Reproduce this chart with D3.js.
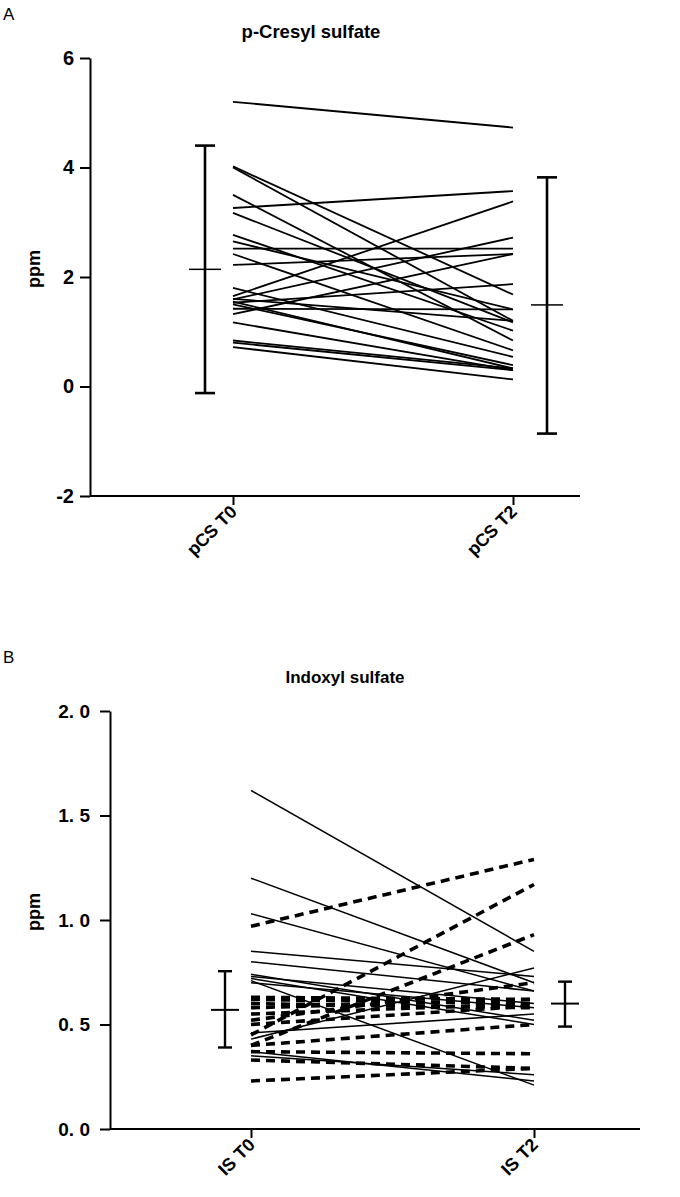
<!DOCTYPE html>
<html><head><meta charset="utf-8">
<script src="https://cdn.jsdelivr.net/npm/d3@7"></script>
<style>
html,body{margin:0;padding:0;background:#fff;}
svg{display:block;font-family:"Liberation Sans",Arial,sans-serif;}
</style></head>
<body><svg id="c" width="680" height="1197"></svg>
<script>
// ---------- Panel A data (p-Cresyl sulfate, ppm) ----------
const catsA = ["pCS T0", "pCS T2"];
const ticksA = [-2, 0, 2, 4, 6];
const tickLabelsA = ["-2", "0", "2", "4", "6"];
const pcsT0 = [5.20, 4.02, 4.00, 3.50, 3.26, 3.17, 2.77, 2.65, 2.52, 2.42, 2.22, 1.80, 1.65, 1.59, 1.53, 1.50, 1.55, 1.42, 1.32, 1.17, 0.84, 0.80, 0.72, 1.60];
const pcsT2 = [4.73, 1.68, 1.20, 0.84, 3.57, 1.17, 1.02, 1.41, 2.52, 0.66, 2.42, 0.54, 3.38, 2.72, 1.87, 0.39, 0.33, 1.41, 2.42, 0.30, 0.33, 0.30, 0.13, 1.20];
const pcsMean = [2.14, 1.49];
const pcsLow = [-0.12, -0.86];
const pcsHigh = [4.40, 3.82];

// ---------- Panel B data (Indoxyl sulfate, ppm) ----------
const catsB = ["IS T0", "IS T2"];
const ticksB = [0, 0.5, 1.0, 1.5, 2.0];
const tickLabelsB = ["0. 0", "0. 5", "1. 0", "1. 5", "2. 0"];
const isSolidT0 = [1.62, 1.20, 1.03, 0.85, 0.80, 0.74, 0.73, 0.72, 0.71, 0.70, 0.43, 0.37, 0.35, 0.46];
const isSolidT2 = [0.85, 0.70, 0.66, 0.73, 0.66, 0.52, 0.60, 0.50, 0.21, 0.58, 0.77, 0.23, 0.26, 0.55];
const isDashT0 = [0.97, 0.45, 0.40, 0.63, 0.62, 0.60, 0.58, 0.55, 0.52, 0.50, 0.40, 0.37, 0.33, 0.23];
const isDashT2 = [1.29, 1.17, 0.93, 0.62, 0.60, 0.58, 0.62, 0.60, 0.70, 0.59, 0.50, 0.36, 0.29, 0.29];
const isMean = [0.57, 0.60];
const isLow = [0.39, 0.49];
const isHigh = [0.755, 0.705];

const svg = d3.select("#c");
const FONT = "'Liberation Sans', Arial, sans-serif";

function panel(cfg) {
  const g = svg.append("g");
  const y = d3.scaleLinear().domain(cfg.yDomain).range(cfg.yRange);
  const x = d3.scalePoint().domain(cfg.cats).range(cfg.xRange);

  // panel letter
  g.append("text").attr("x", 3).attr("y", cfg.letterY).text(cfg.letter)
    .attr("font-size", 17).attr("font-family", FONT);
  // title
  g.append("text").attr("x", cfg.titleX).attr("y", cfg.titleY).attr("text-anchor", "middle")
    .attr("font-size", cfg.titleFont).attr("font-weight", "bold").attr("font-family", FONT).text(cfg.title);

  // y axis
  const ya = d3.axisLeft(y).tickValues(cfg.ticks).tickSize(10).tickSizeOuter(0)
    .tickFormat((d, i) => cfg.tickLabels[i]);
  const yg = g.append("g").attr("transform", `translate(${cfg.axisX},0)`).call(ya);
  yg.select(".domain").attr("stroke-width", 2);
  yg.selectAll(".tick line").attr("stroke-width", 2);
  yg.selectAll(".tick text").attr("font-size", cfg.tickFont).attr("font-weight", "bold")
    .attr("font-family", FONT).attr("x", -cfg.labelGap).attr("fill", "#000");

  // x axis
  const base = y(cfg.yDomain[0]);
  const xa = d3.axisBottom(x).tickSize(9).tickSizeOuter(0).tickFormat("");
  const xg = g.append("g").attr("transform", `translate(0,${base})`).call(xa);
  xg.select(".domain").remove();
  xg.selectAll(".tick line").attr("stroke-width", 2);
  g.append("line").attr("x1", cfg.axisX).attr("x2", cfg.xEnd).attr("y1", base).attr("y2", base)
    .attr("stroke", "#000").attr("stroke-width", 2);
  cfg.cats.forEach(c => {
    g.append("text").attr("transform", `translate(${x(c) + 5},${base + 17}) rotate(-45)`)
      .attr("text-anchor", "end").attr("font-size", cfg.catFont).attr("font-weight", "bold")
      .attr("font-family", FONT).text(c);
  });

  // ylabel
  g.append("text").attr("transform", `translate(${cfg.ylabX},${(cfg.yRange[0] + cfg.yRange[1]) / 2 - 8}) rotate(-90)`)
    .attr("text-anchor", "middle").attr("font-size", 18).attr("font-weight", "bold")
    .attr("font-family", FONT).text("ppm");

  // paired lines
  cfg.series.forEach(s => {
    s.t0.forEach((v, i) => {
      g.append("line").attr("x1", x(cfg.cats[0])).attr("x2", x(cfg.cats[1]))
        .attr("y1", y(v)).attr("y2", y(s.t2[i]))
        .attr("stroke", "#000").attr("stroke-width", s.width)
        .attr("stroke-dasharray", s.dash || null);
    });
  });

  // error bars
  cfg.cats.forEach((c, i) => {
    const ex = x(c) + cfg.ebOffset[i];
    g.append("line").attr("x1", ex).attr("x2", ex).attr("y1", y(cfg.low[i])).attr("y2", y(cfg.high[i]))
      .attr("stroke", "#000").attr("stroke-width", cfg.ebWidth);
    [cfg.low[i], cfg.high[i]].forEach(v => {
      g.append("line").attr("x1", ex - cfg.capW).attr("x2", ex + cfg.capW).attr("y1", y(v)).attr("y2", y(v))
        .attr("stroke", "#000").attr("stroke-width", cfg.ebWidth);
    });
    g.append("line").attr("x1", ex - cfg.meanW).attr("x2", ex + cfg.meanW)
      .attr("y1", y(cfg.mean[i])).attr("y2", y(cfg.mean[i]))
      .attr("stroke", "#000").attr("stroke-width", cfg.meanStroke);
  });
}

panel({
  letter: "A", letterY: 20, title: "p-Cresyl sulfate", titleX: 311, titleY: 38, titleFont: 18.5,
  cats: catsA, ticks: ticksA, tickLabels: tickLabelsA, yDomain: [-2, 6], yRange: [496, 58], xRange: [233, 513],
  axisX: 90, xEnd: 580, tickFont: 20, labelGap: 16, catFont: 18, ylabX: 40,
  series: [{t0: pcsT0, t2: pcsT2, width: 1.8}],
  mean: pcsMean, low: pcsLow, high: pcsHigh, ebOffset: [-28, 34],
  ebWidth: 2.6, capW: 10, meanW: 16, meanStroke: 1.5
});

panel({
  letter: "B", letterY: 663, title: "Indoxyl sulfate", titleX: 345, titleY: 683, titleFont: 17,
  cats: catsB, ticks: ticksB, tickLabels: tickLabelsB, yDomain: [0, 2.0], yRange: [1129, 711],
  xRange: [251, 534], axisX: 110, xEnd: 640, tickFont: 19, labelGap: 20, catFont: 18, ylabX: 40,
  series: [{t0: isSolidT0, t2: isSolidT2, width: 1.5},
           {t0: isDashT0, t2: isDashT2, width: 3.6, dash: "9,6"}],
  mean: isMean, low: isLow, high: isHigh, ebOffset: [-26, 31],
  ebWidth: 2.4, capW: 7, meanW: 14, meanStroke: 2
});
</script></body></html>
